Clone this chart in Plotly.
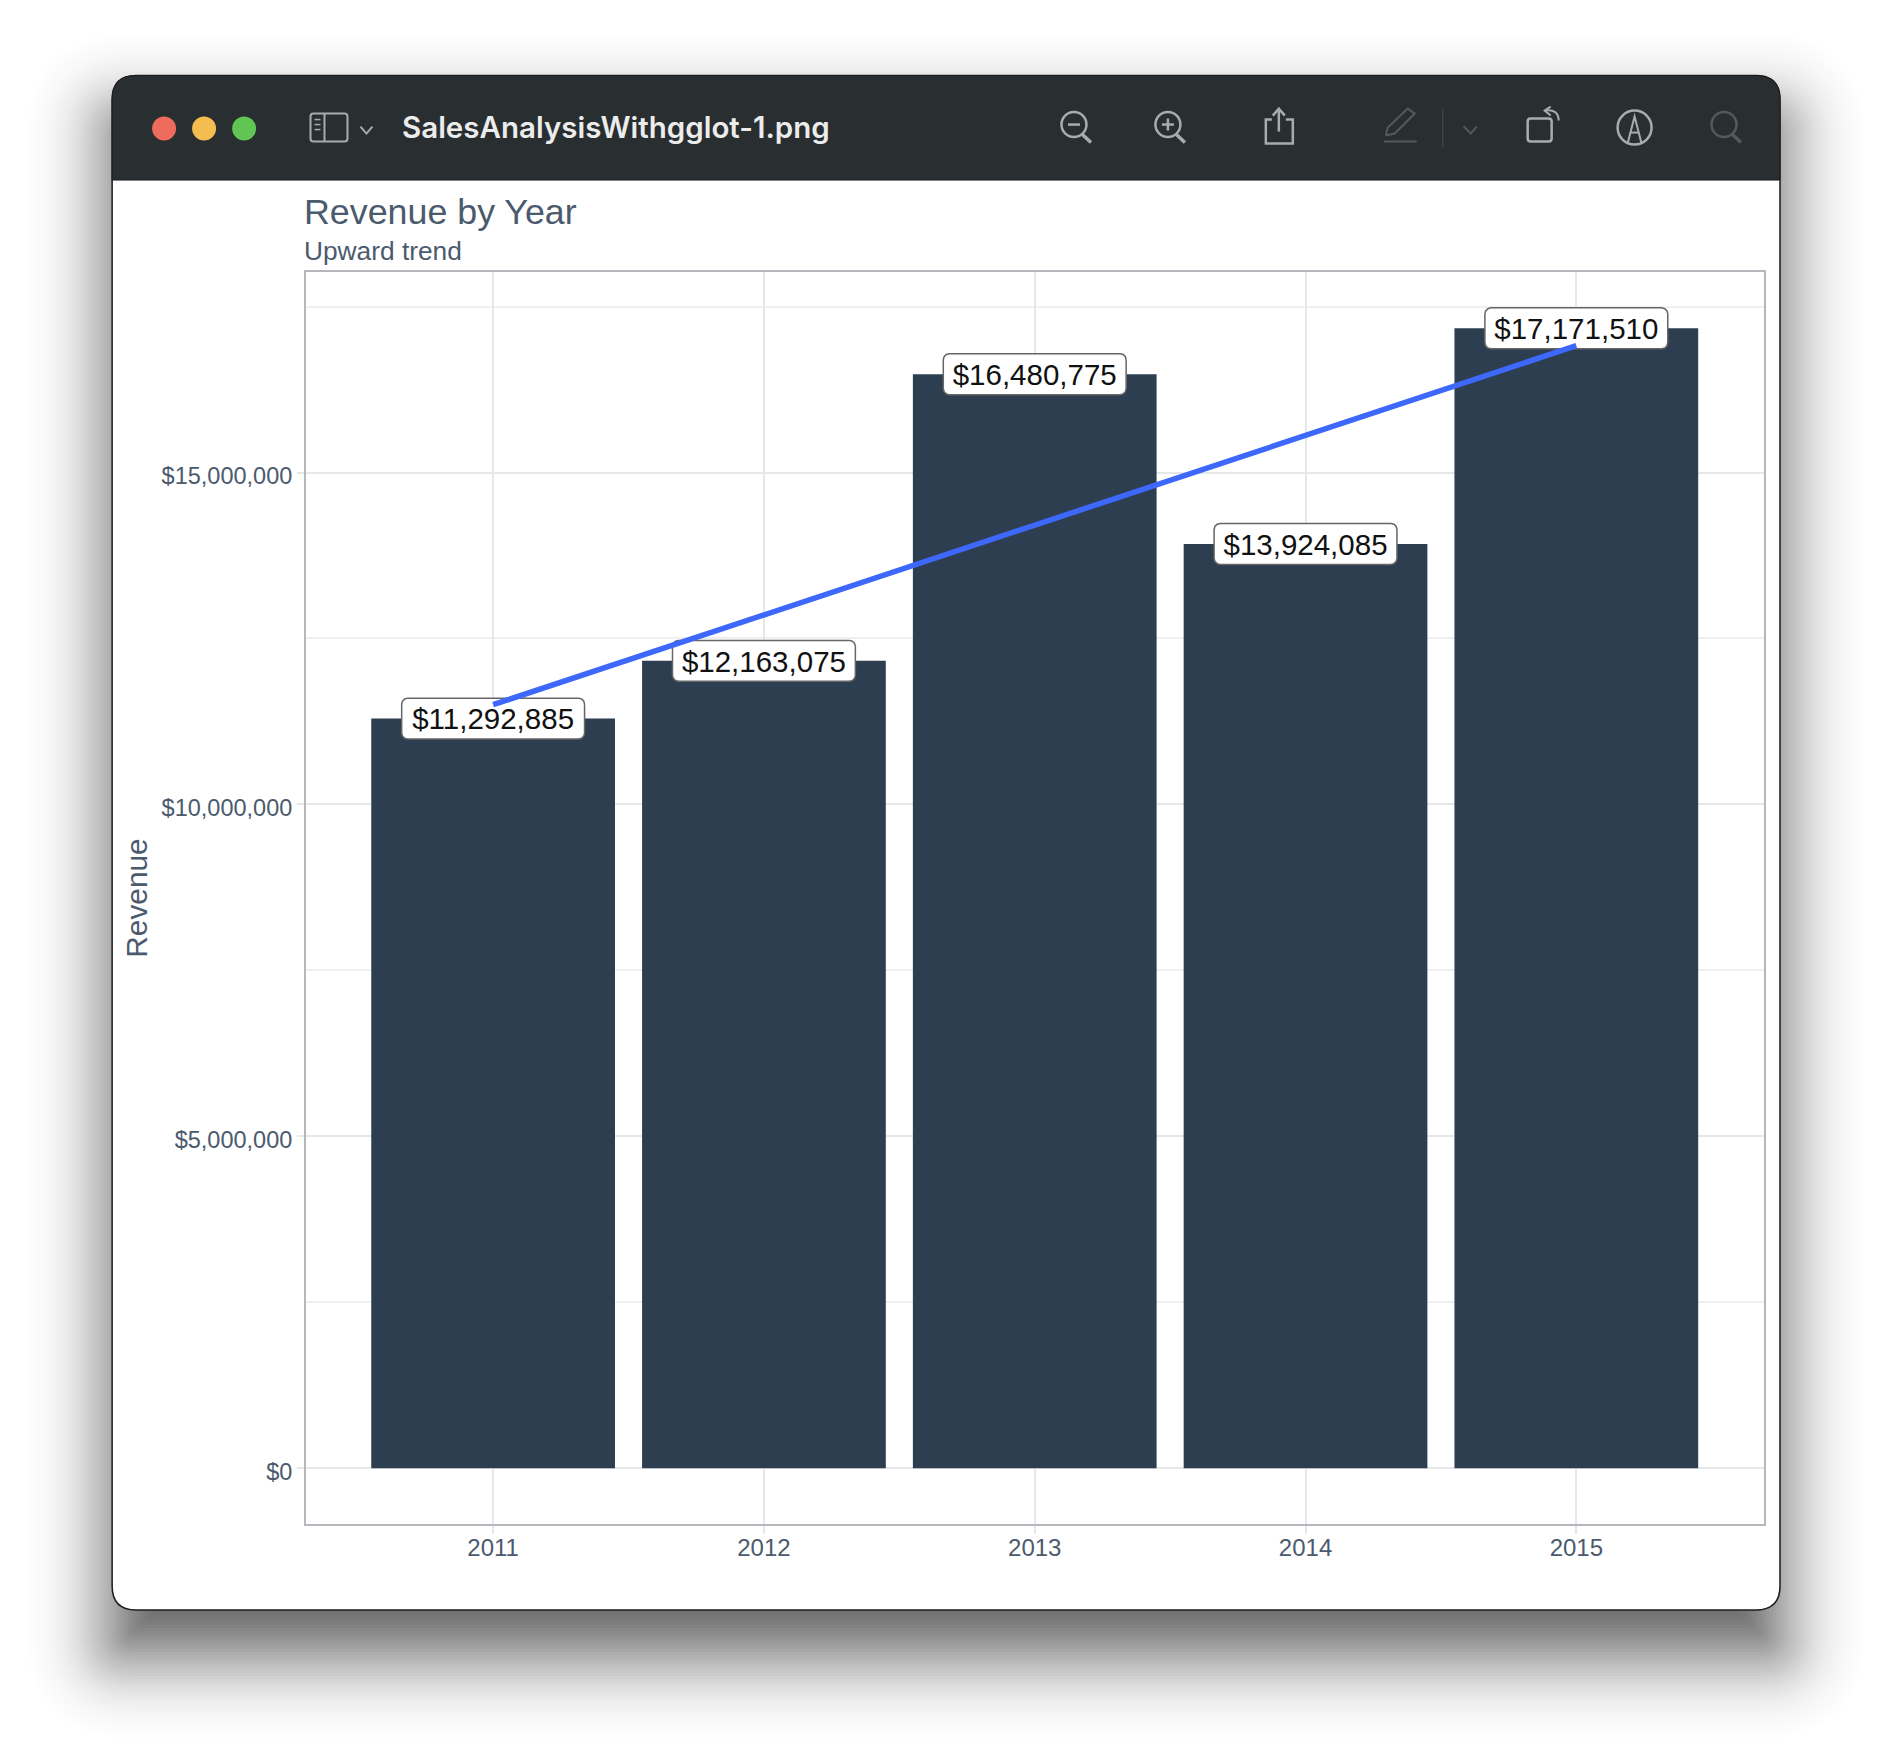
import math
import plotly.graph_objects as go

# ---- data ----
years = [2011, 2012, 2013, 2014, 2015]
revenue = [11292885, 12163075, 16480775, 13924085, 17171510]
trend_years = [2011, 2015]
trend_values = [11503014, 16910318]
y_tick_values = [0, 5000000, 10000000, 15000000]
y_tick_labels = ["$0", "$5,000,000", "$10,000,000", "$15,000,000"]
y_minor_values = [2500000, 7500000, 12500000, 17500000]
chart_title = "Revenue by Year"
chart_subtitle = "Upward trend"
y_title = "Revenue"
window_title = "SalesAnalysisWithgglot-1.png"

# ---- page geometry ----
W, H = 1892, 1758
L, R, T, B = 305.5, 1764.5, 271.5, 1524
WX0, WX1, WY0, WY1 = 111.5, 1780.5, 75, 1610
HEADER_BOTTOM = 179.5
NAVY = "#2c3e50"
TEXT = "#4b5a6d"
HEADER = "#292e31"


def px(x):
    return (x - L) / (R - L)


def py(y):
    return (B - y) / (B - T)


def rounded(x0, y0, x1, y1, r, square_bottom=False):
    rb = 0 if square_bottom else r
    pts = [
        f"M{px(x0 + r)},{py(y0)}", f"L{px(x1 - r)},{py(y0)}",
        f"Q{px(x1)},{py(y0)} {px(x1)},{py(y0 + r)}",
        f"L{px(x1)},{py(y1 - rb)}",
        f"Q{px(x1)},{py(y1)} {px(x1 - rb)},{py(y1)}",
        f"L{px(x0 + rb)},{py(y1)}",
        f"Q{px(x0)},{py(y1)} {px(x0)},{py(y1 - rb)}",
        f"L{px(x0)},{py(y0 + r)}",
        f"Q{px(x0)},{py(y0)} {px(x0 + r)},{py(y0)}", "Z",
    ]
    return " ".join(pts)


def pathshape(d, fill="rgba(0,0,0,0)", color="rgba(0,0,0,0)", width=0, layer="below"):
    return dict(type="path", xref="paper", yref="paper", path=d, fillcolor=fill,
                line=dict(color=color, width=width), layer=layer)


def poly(points):
    return "M" + " L".join(f"{px(x)},{py(y)}" for x, y in points)


def circle(cx, cy, r, fill="rgba(0,0,0,0)", color="rgba(0,0,0,0)", width=0):
    return dict(type="circle", xref="paper", yref="paper", x0=px(cx - r), x1=px(cx + r),
                y0=py(cy + r), y1=py(cy - r), fillcolor=fill,
                line=dict(color=color, width=width), layer="below")


shapes = []

# soft window shadow, stacked translucent rounded rectangles
A, SIGMA, OFFSET = 0.63, 43.0, 43.0
prev = 0.0
e = 125.0
while e >= -100:
    target = A * 0.5 * (1 + math.erf(-e / SIGMA / math.sqrt(2)))
    alpha = 1 - (1 - target) / (1 - prev)
    prev = target
    shapes.append(pathshape(
        rounded(WX0 - e, WY0 + OFFSET - e, WX1 + e, WY1 + OFFSET + e, max(22 + e, 6)),
        fill=f"rgba(0,0,0,{alpha:.5f})"))
    e -= 3

# window and header
shapes.append(pathshape(rounded(WX0, WY0, WX1, WY1, 24), fill="#ffffff", color="#1c1c1c", width=1.5))
shapes.append(pathshape(rounded(WX0, WY0, WX1, HEADER_BOTTOM, 24, square_bottom=True), fill=HEADER, color="#1c1c1c", width=1))

# traffic lights
for cx, col in [(163.5, "#ef6b5e"), (203.5, "#f5bd4f"), (243.6, "#61c554")]:
    shapes.append(circle(cx, 128, 12, fill=col))

ICON = "#a9acae"
DIM = "#55595c"

# sidebar icon
shapes.append(pathshape(rounded(310, 113, 347, 141, 3), color=ICON, width=2))
shapes.append(pathshape(poly([(324, 113), (324, 141)]), color=ICON, width=2))
for yy in (119, 124, 129):
    shapes.append(pathshape(poly([(314, yy), (320, yy)]), color=ICON, width=1.5))
# chevrons
shapes.append(pathshape(poly([(360, 126), (366, 133), (372, 126)]), color=ICON, width=2))
shapes.append(pathshape(poly([(1464, 126), (1471, 133), (1477, 126)]), color=DIM, width=2))

# zoom out / zoom in / search
for cx, col, lw in [(1074, ICON, 2.5), (1168, ICON, 2.5), (1724.5, DIM, 2.5)]:
    shapes.append(circle(cx, 124, 12.5, color=col, width=lw))
    shapes.append(pathshape(poly([(cx + 8.5, 134), (cx + 17, 142)]), color=col, width=3.5))
shapes.append(pathshape(poly([(1068, 124), (1080, 124)]), color=ICON, width=2.5))
shapes.append(pathshape(poly([(1162, 124), (1174, 124)]), color=ICON, width=2.5))
shapes.append(pathshape(poly([(1168, 118), (1168, 130)]), color=ICON, width=2.5))

# share
shapes.append(pathshape(poly([(1272, 119), (1266, 119), (1266, 143), (1293, 143), (1293, 119), (1286, 119)]), color=ICON, width=2.5))
shapes.append(pathshape(poly([(1279, 109), (1279, 131)]), color=ICON, width=2.5))
shapes.append(pathshape(poly([(1273, 115), (1279, 108), (1285, 115)]), color=ICON, width=2.5))

# pencil
shapes.append(pathshape(poly([(1386, 135), (1388, 127), (1408, 108), (1415, 113), (1395, 133), (1386, 135)]), color=DIM, width=2))
shapes.append(pathshape(poly([(1384, 141), (1417, 141)]), color=DIM, width=2))
shapes.append(pathshape(poly([(1443, 108), (1443, 147)]), color="#3f4447", width=1.5))

# rotate
shapes.append(pathshape(rounded(1528, 118, 1552, 141, 3), color=ICON, width=2.5))
shapes.append(pathshape(f"M{px(1545)},{py(110)} Q{px(1559)},{py(108)} {px(1559)},{py(120)}", color=ICON, width=2))
shapes.append(pathshape(poly([(1551, 106), (1545, 110), (1551, 115)]), color=ICON, width=2))

# markup
shapes.append(circle(1635, 127, 17, color=ICON, width=2.5))
shapes.append(pathshape(poly([(1628, 143), (1635, 116), (1642, 143)]), color=ICON, width=2))
shapes.append(pathshape(poly([(1631, 132), (1639, 132)]), color=ICON, width=2))

# ---- data-label boxes, sized from each value ----
PX_PER_YEAR = 271.0
PX_PER_DOLLAR = 332.5 / 5000000
half_w = 91.5 / PX_PER_YEAR
half_h = 20.5 / PX_PER_DOLLAR
rx = 6 / PX_PER_YEAR
ry = 6 / PX_PER_DOLLAR
box_x, box_y = [], []
corner_steps = [0, 30, 60, 90]
for yr, val in zip(years, revenue):
    for cx, cy, start in [
        (yr + half_w - rx, val + half_h - ry, 0),
        (yr - half_w + rx, val + half_h - ry, 90),
        (yr - half_w + rx, val - half_h + ry, 180),
        (yr + half_w - rx, val - half_h + ry, 270),
    ]:
        for s in corner_steps:
            a = math.radians(start + s)
            box_x.append(cx + rx * math.cos(a))
            box_y.append(cy + ry * math.sin(a))
    box_x.append(yr + half_w)
    box_y.append(val + half_h - ry)
    box_x.append(None)
    box_y.append(None)

labels = [f"${v:,}" for v in revenue]
label_y = [v - 3.5 / PX_PER_DOLLAR for v in revenue]

fig = go.Figure()
fig.add_trace(go.Bar(x=years, y=revenue, width=0.9, marker=dict(color=NAVY, line=dict(width=0)),
                     hoverinfo="skip", showlegend=False))
fig.add_trace(go.Scatter(x=box_x, y=box_y, mode="lines", fill="toself", fillcolor="#ffffff",
                         line=dict(color="#666666", width=1.5), hoverinfo="skip", showlegend=False))
fig.add_trace(go.Scatter(x=trend_years, y=trend_values, mode="lines",
                         line=dict(color="#3d68fb", width=5.5), hoverinfo="skip", showlegend=False))
fig.add_trace(go.Scatter(x=years, y=label_y, mode="text", text=labels, textposition="middle center",
                         textfont=dict(family="Liberation Sans, Arial", size=29.5, color="#111111"),
                         hoverinfo="skip", showlegend=False))

GRID = "#e6e7e9"
BORDER = "#b4b8bd"
fig.update_xaxes(
    range=[2010.309, 2015.693], tickmode="array", tickvals=years, ticktext=[str(y) for y in years],
    showgrid=True, gridcolor=GRID, gridwidth=1.5, zeroline=False,
    showline=True, linecolor=BORDER, linewidth=2, mirror=True,
    ticks="outside", ticklen=8, tickwidth=1.5, tickcolor=GRID, ticklabelstandoff=-7,
    tickfont=dict(family="Liberation Sans, Arial", size=24, color=TEXT),
)
fig.update_yaxes(
    range=[-838000, 18020000], tickmode="array", tickvals=y_tick_values, ticktext=y_tick_labels,
    showgrid=True, gridcolor=GRID, gridwidth=1.5, zeroline=False,
    showline=True, linecolor=BORDER, linewidth=2, mirror=True,
    ticks="outside", ticklen=7, tickwidth=1.5, tickcolor=GRID, ticklabelshift=3,
    tickfont=dict(family="Liberation Sans, Arial", size=23.5, color=TEXT),
    minor=dict(tickmode="array", tickvals=y_minor_values, showgrid=True, gridcolor="#eeeff0",
               gridwidth=1.5, ticks=""),
    title=dict(text=y_title, font=dict(family="Liberation Sans, Arial", size=29.8, color=TEXT), standoff=5),
)

annotations = [
    dict(text=window_title, xref="paper", yref="paper", x=px(399.5), y=py(126), xanchor="left", yanchor="middle",
         showarrow=False, font=dict(family="Inter, Roboto", size=29.5, color="#ececec", weight=600)),
    dict(text=chart_title, xref="paper", yref="paper", x=px(301), y=py(211.5), xanchor="left", yanchor="middle",
         showarrow=False, font=dict(family="Liberation Sans, Arial", size=35.8, color=TEXT)),
    dict(text=chart_subtitle, xref="paper", yref="paper", x=px(301.5), y=py(250), xanchor="left", yanchor="middle",
         showarrow=False, font=dict(family="Liberation Sans, Arial", size=26.3, color=TEXT)),
]

fig.update_layout(
    width=W, height=H, autosize=False,
    margin=dict(l=L, r=W - R, t=T, b=H - B, pad=0),
    paper_bgcolor="#ffffff", plot_bgcolor="rgba(0,0,0,0)",
    showlegend=False, bargap=0.1, shapes=shapes, annotations=annotations,
)

fig.write_html("out.html", post_script="document.body.style.margin='0';document.body.style.overflow='hidden';",
               config=dict(displayModeBar=False))
